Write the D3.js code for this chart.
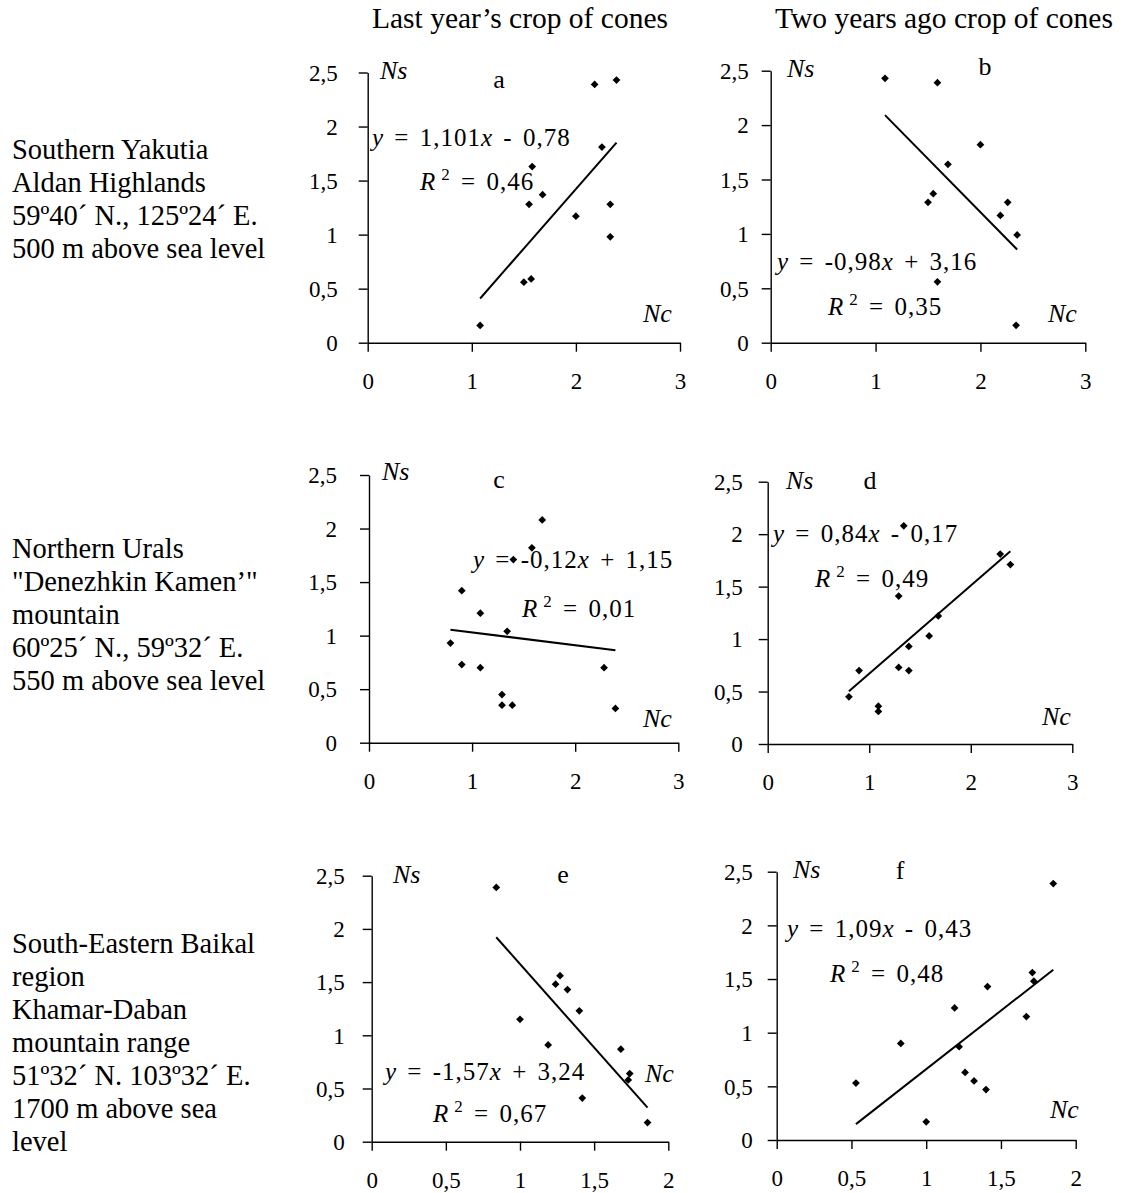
<!DOCTYPE html>
<html>
<head>
<meta charset="utf-8">
<script src="https://cdn.jsdelivr.net/npm/d3@7"></script>
<style>
  body { margin: 0; background: #fff; }
  svg { display: block; }
  text { font-family: "Liberation Serif", "Times New Roman", serif; fill: #000; }
  .axis path, .axis line { stroke: #000; stroke-width: 1.4; }
  .axis text { font-size: 23px; }
  .head { font-size: 29.5px; }
  .site { font-size: 28.5px; }
  .note { font-size: 25px; }
  .tag { font-size: 26px; }
  .name { font-size: 26px; font-style: italic; }
</style>
</head>
<body>
<svg id="chart" width="1124" height="1193"></svg>
<script>
// Nc — cone crop index, Ns — seed crop index, one pair of arrays per plot
const nc_a = [1.08, 1.50, 1.57, 1.55, 1.58, 1.68, 2.00, 2.18, 2.25, 2.39, 2.33, 2.33];
const ns_a = [0.16, 0.56, 0.59, 1.28, 1.63, 1.37, 1.17, 2.39, 1.81, 2.43, 1.28, 0.98];

const nc_b = [1.09, 1.59, 2.00, 1.69, 1.55, 1.50, 2.19, 2.26, 2.35, 1.59, 2.34];
const ns_b = [2.43, 2.39, 1.82, 1.64, 1.37, 1.29, 1.17, 1.29, 0.99, 0.56, 0.16];

const nc_c = [0.79, 0.90, 0.90, 1.08, 1.08, 1.29, 1.29, 1.39, 1.34, 1.40, 1.58, 1.68, 2.28, 2.39];
const ns_c = [0.93, 1.42, 0.73, 1.21, 0.70, 0.45, 0.35, 0.35, 1.04, 1.71, 1.82, 2.08, 0.70, 0.32];

const nc_d = [0.80, 0.90, 1.09, 1.09, 1.29, 1.29, 1.39, 1.39, 1.34, 1.59, 1.68, 2.29, 2.39];
const ns_d = [0.45, 0.70, 0.36, 0.31, 0.73, 1.41, 0.93, 0.70, 2.08, 1.03, 1.22, 1.81, 1.71];

const nc_e = [0.84, 1.00, 1.19, 1.24, 1.27, 1.32, 1.40, 1.42, 1.68, 1.74, 1.73, 1.86];
const ns_e = [2.39, 1.15, 0.91, 1.48, 1.56, 1.43, 1.23, 0.41, 0.87, 0.64, 0.58, 0.18];

const nc_f = [0.53, 0.83, 1.00, 1.19, 1.22, 1.26, 1.32, 1.40, 1.41, 1.67, 1.71, 1.72, 1.85];
const ns_f = [0.53, 0.90, 0.17, 1.23, 0.87, 0.63, 0.55, 0.47, 1.43, 1.15, 1.56, 1.48, 2.39];

// linear fits: [slope, intercept], and R²
const fit_a = [1.101, -0.78], r2_a = 0.46;
const fit_b = [-0.98, 3.16],  r2_b = 0.35;
const fit_c = [-0.12, 1.15],  r2_c = 0.01;
const fit_d = [0.84, -0.17],  r2_d = 0.49;
const fit_e = [-1.57, 3.24],  r2_e = 0.67;
const fit_f = [1.09, -0.43],  r2_f = 0.48;

// tick values
const yTicks = [0, 0.5, 1, 1.5, 2, 2.5];
const xTicksWide = [0, 1, 2, 3];
const xTicksNarrow = [0, 0.5, 1, 1.5, 2];

// text
const columnTitles = ["Last year\u2019s crop of cones", "Two years ago crop of cones"];
const siteLabels = [
  ["Southern Yakutia", "Aldan Highlands", "59\u00BA40\u00B4 N., 125\u00BA24\u00B4 E.", "500 m above sea level"],
  ["Northern Urals", "\"Denezhkin Kamen\u2019\"", "mountain", "60\u00BA25\u00B4 N., 59\u00BA32\u00B4 E.", "550 m above sea level"],
  ["South-Eastern Baikal", "region", "Khamar-Daban", "mountain range", "51\u00BA32\u00B4 N. 103\u00BA32\u00B4 E.", "1700 m above sea", "level"]
];

const panels = [
  { id: "a", nc: nc_a, ns: ns_a, fit: fit_a, r2: r2_a, xTicks: xTicksWide },
  { id: "b", nc: nc_b, ns: ns_b, fit: fit_b, r2: r2_b, xTicks: xTicksWide },
  { id: "c", nc: nc_c, ns: ns_c, fit: fit_c, r2: r2_c, xTicks: xTicksWide },
  { id: "d", nc: nc_d, ns: ns_d, fit: fit_d, r2: r2_d, xTicks: xTicksWide },
  { id: "e", nc: nc_e, ns: ns_e, fit: fit_e, r2: r2_e, xTicks: xTicksNarrow },
  { id: "f", nc: nc_f, ns: ns_f, fit: fit_f, r2: r2_f, xTicks: xTicksNarrow }
];

// plot frames and annotation anchors (pixels)
const layout = {
  a: { l: 367.7, r: 680.0,  t: 72.5,  b: 342.7,  gap: 30, eq: [372, 146],  rr: [420, 190],  tag: [499, 88],  ns: [380, 79],  nc: [643, 322] },
  b: { l: 770.7, r: 1085.3, t: 70.7,  b: 342.7,  gap: 22, eq: [777, 270],  rr: [828, 315],  tag: [985, 75],  ns: [787, 77],  nc: [1048, 322] },
  c: { l: 369.0, r: 678.3,  t: 475.0, b: 742.7,  gap: 32, eq: [473, 568],  rr: [522, 617],  tag: [499, 488], ns: [382, 480], nc: [643, 727] },
  d: { l: 767.7, r: 1072.3, t: 481.7, b: 744.0,  gap: 25, eq: [773, 542],  rr: [815, 587],  tag: [870, 489], ns: [786, 489], nc: [1042, 725] },
  e: { l: 371.7, r: 668.3,  t: 875.7, b: 1141.7, gap: 27, eq: [385, 1080], rr: [433, 1122], tag: [563, 883], ns: [393, 883], nc: [645, 1082] },
  f: { l: 776.7, r: 1075.7, t: 871.7, b: 1140.0, gap: 24, eq: [787, 937],  rr: [830, 982],  tag: [900, 879], ns: [793, 878], nc: [1050, 1118] }
};

const svg = d3.select("#chart");
const comma = v => String(v).replace(".", ",");

// column headings
svg.append("text").attr("class", "head").attr("x", 372).attr("y", 28).text(columnTitles[0]);
svg.append("text").attr("class", "head").attr("x", 775).attr("y", 28).text(columnTitles[1]);

// site descriptions on the left
const siteTop = [159, 558, 953];
siteLabels.forEach((lines, i) => {
  const t = svg.append("text").attr("class", "site").attr("x", 12).attr("y", siteTop[i]);
  lines.forEach((ln, j) => t.append("tspan").attr("x", 12).attr("dy", j === 0 ? 0 : 33).text(ln));
});

const marker = d3.symbol().type(d3.symbolSquare).size(30);

panels.forEach(p => {
  const L = layout[p.id];
  const xMax = p.xTicks[p.xTicks.length - 1];
  const x = d3.scaleLinear().domain([0, xMax]).range([L.l, L.r]);
  const y = d3.scaleLinear().domain([0, 2.5]).range([L.b, L.t]);
  const g = svg.append("g");

  const xa = g.append("g").attr("class", "axis")
    .attr("transform", `translate(0,${L.b})`)
    .call(d3.axisBottom(x).tickValues(p.xTicks).tickFormat(comma)
      .tickSize(9).tickSizeOuter(0).tickPadding(21));
  const ya = g.append("g").attr("class", "axis")
    .attr("transform", `translate(${L.l},0)`)
    .call(d3.axisLeft(y).tickValues(yTicks).tickFormat(comma)
      .tickSize(9).tickSizeOuter(0).tickPadding(L.gap - 9));
  [xa, ya].forEach(a => a.attr("font-family", null).attr("font-size", null));
  ya.selectAll("text").attr("dy", "0.34em");

  // regression line over the range of observed Nc
  const [x0, x1] = d3.extent(p.nc);
  const [m, c] = p.fit;
  g.append("line")
    .attr("x1", x(x0)).attr("y1", y(m * x0 + c))
    .attr("x2", x(x1)).attr("y2", y(m * x1 + c))
    .attr("stroke", "#000").attr("stroke-width", 2);

  // observations
  g.selectAll("path.pt").data(p.nc.map((v, i) => [v, p.ns[i]])).join("path")
    .attr("class", "pt")
    .attr("d", marker)
    .attr("transform", d => `translate(${x(d[0])},${y(d[1])}) rotate(45)`)
    .attr("fill", "#000");

  // equation of the fitted line
  const eq = g.append("text").attr("class", "note")
    .attr("x", L.eq[0]).attr("y", L.eq[1])
    .attr("word-spacing", 3).attr("letter-spacing", 1);
  eq.append("tspan").attr("font-style", "italic").text("y");
  eq.append("tspan").text(" = " + comma(m));
  eq.append("tspan").attr("font-style", "italic").text("x");
  eq.append("tspan").text("  " + (c < 0 ? "- " : "+ ") + comma(Math.abs(c)));

  const rr = g.append("text").attr("class", "note")
    .attr("x", L.rr[0]).attr("y", L.rr[1])
    .attr("word-spacing", 3).attr("letter-spacing", 1);
  rr.append("tspan").attr("font-style", "italic").text("R");
  rr.append("tspan").attr("font-size", 17).attr("dx", 5).attr("dy", -10).text("2");
  rr.append("tspan").attr("dy", 10).text(" = " + comma(p.r2));

  // plot tag and axis names
  g.append("text").attr("class", "tag").attr("text-anchor", "middle")
    .attr("x", L.tag[0]).attr("y", L.tag[1]).text(p.id);
  g.append("text").attr("class", "name")
    .attr("x", L.ns[0]).attr("y", L.ns[1]).text("Ns");
  g.append("text").attr("class", "name")
    .attr("x", L.nc[0]).attr("y", L.nc[1]).text("Nc");
});
</script>
</body>
</html>
